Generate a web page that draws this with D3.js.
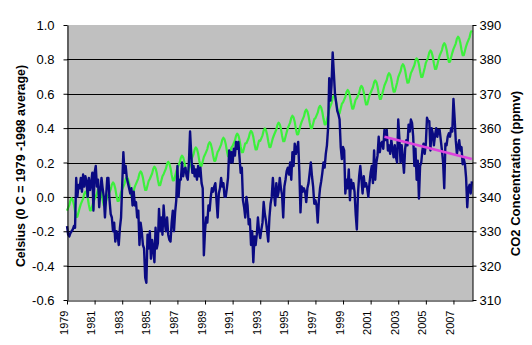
<!DOCTYPE html>
<html>
<head>
<meta charset="utf-8">
<script src="https://cdn.jsdelivr.net/npm/d3@7"></script>
<style>
  html, body { margin: 0; padding: 0; background: #ffffff; }
  svg { display: block; }
  text { font-family: "Liberation Sans", Arial, sans-serif; fill: #000; }
</style>
</head>
<body>
<svg id="chart" width="532" height="345"></svg>
<script>
// ---------------- DATA ----------------
const startYear = 1979;           // first month = Jan 1979, monthly data
const monthsShown = 353;          // Jan 1979 .. May 2008 (category count)

// Monthly temperature anomaly (°C, 0 = 1979-1998 average)
const tempAnom = [
  -0.17,-0.22,-0.23,-0.21,-0.20,-0.19,-0.17,-0.18,0.11,0.00,0.07,0.05,   // 1979
  0.11,0.03,0.13,0.06,0.12,0.09,0.00,0.11,0.04,0.08,0.14,-0.08,          // 1980
  0.14,0.18,0.06,0.10,-0.06,0.03,0.11,0.05,0.00,-0.12,0.00,0.11,         // 1981
  0.11,-0.02,-0.10,-0.12,-0.20,-0.15,-0.26,-0.20,-0.22,-0.28,-0.18,-0.12,// 1982
  0.07,0.26,0.14,0.18,0.11,0.08,0.05,0.02,0.05,-0.05,0.03,-0.05,         // 1983
  -0.03,-0.12,-0.08,-0.28,-0.15,-0.20,-0.28,-0.30,-0.47,-0.50,-0.22,-0.30,// 1984
  -0.20,-0.36,-0.25,-0.30,-0.38,-0.18,-0.30,-0.27,-0.07,-0.20,-0.12,-0.22,// 1985
  -0.05,-0.15,-0.20,-0.12,-0.22,-0.25,-0.26,-0.15,-0.08,-0.20,-0.09,-0.02,// 1986
  0.18,0.00,0.10,0.10,0.20,0.12,0.16,0.17,0.12,0.10,0.20,0.38,           // 1987
  0.25,0.14,0.18,0.12,0.16,0.10,0.18,0.12,0.17,0.08,0.05,-0.34,          // 1988
  -0.20,-0.12,-0.15,-0.05,-0.08,0.00,0.05,0.03,0.06,0.08,-0.02,-0.12,    // 1989
  0.02,0.05,0.11,0.06,0.08,0.00,0.00,0.05,0.11,0.27,0.20,0.26,           // 1990
  0.20,0.28,0.24,0.32,0.28,0.32,0.23,0.14,0.17,-0.02,-0.06,-0.12,        // 1991
  0.00,-0.05,-0.16,-0.13,-0.28,-0.20,-0.38,-0.23,-0.28,-0.22,-0.12,-0.20,// 1992
  -0.24,-0.19,-0.15,-0.03,-0.10,-0.14,-0.20,-0.26,-0.12,-0.04,0.00,0.11, // 1993
  0.02,-0.05,0.08,0.00,0.03,0.11,0.05,0.01,-0.12,0.06,0.10,0.15,         // 1994
  0.17,0.13,0.20,0.10,0.26,0.18,0.31,0.25,0.28,0.32,0.15,-0.09,          // 1995
  0.06,0.03,0.05,0.03,-0.03,0.05,0.08,0.14,0.20,0.12,0.06,-0.04,         // 1996
  -0.02,-0.05,-0.15,-0.02,0.05,0.09,0.14,0.20,0.17,0.25,0.30,0.40,       // 1997
  0.69,0.56,0.65,0.84,0.72,0.60,0.55,0.50,0.48,0.45,0.29,0.22,           // 1998
  0.29,0.27,0.02,0.10,0.05,0.16,-0.02,0.10,0.05,0.08,0.03,-0.10,         // 1999
  -0.19,0.02,0.12,0.18,0.10,0.02,0.12,0.06,0.08,0.05,0.00,0.08,          // 2000
  0.14,0.18,0.08,0.27,0.10,0.20,0.24,0.35,0.26,0.31,0.32,0.28,           // 2001
  0.39,0.33,0.39,0.27,0.30,0.25,0.33,0.28,0.23,0.30,0.23,0.20,           // 2002
  0.45,0.34,0.20,0.30,0.22,0.14,0.28,0.33,0.30,0.42,0.38,0.45,           // 2003
  0.43,0.35,0.18,0.28,0.10,0.21,-0.01,0.18,0.20,0.27,0.31,0.25,          // 2004
  0.31,0.46,0.44,0.44,0.27,0.40,0.37,0.30,0.36,0.40,0.35,0.39,           // 2005
  0.39,0.33,0.27,0.20,0.05,0.31,0.30,0.35,0.37,0.35,0.40,0.38,           // 2006
  0.57,0.46,0.33,0.25,0.29,0.33,0.27,0.29,0.19,0.22,0.19,0.11,           // 2007
  -0.06,0.05,0.07,0.02,0.09                                              // 2008
];

// Monthly CO2 concentration (ppmv)
const co2 = [
  336.0,336.8,337.6,339.0,339.6,339.1,337.8,335.8,334.2,334.2,335.5,336.8, // 1979
  337.9,338.7,339.5,340.9,341.5,341.0,339.7,337.7,336.1,336.1,337.4,338.7, // 1980
  339.3,340.1,340.9,342.3,342.9,342.4,341.1,339.1,337.5,337.5,338.8,340.1, // 1981
  340.6,341.4,342.2,343.6,344.2,343.7,342.4,340.4,338.8,338.8,340.1,341.4, // 1982
  342.2,343.0,343.8,345.2,345.8,345.3,344.0,342.0,340.4,340.4,341.7,343.0, // 1983
  343.8,344.6,345.4,346.8,347.4,346.9,345.6,343.6,342.0,342.0,343.3,344.6, // 1984
  345.2,346.0,346.8,348.2,348.8,348.3,347.0,345.0,343.4,343.4,344.7,346.0, // 1985
  346.6,347.4,348.2,349.6,350.2,349.7,348.4,346.4,344.8,344.8,346.1,347.4, // 1986
  348.4,349.2,350.0,351.4,352.0,351.5,350.2,348.2,346.6,346.6,347.9,349.2, // 1987
  350.8,351.6,352.4,353.8,354.4,353.9,352.6,350.6,349.0,349.0,350.3,351.6, // 1988
  352.3,353.1,353.9,355.3,355.9,355.4,354.1,352.1,350.5,350.5,351.8,353.1, // 1989
  353.6,354.4,355.2,356.6,357.2,356.7,355.4,353.4,351.8,351.8,353.1,354.4, // 1990
  354.8,355.6,356.4,357.8,358.4,357.9,356.6,354.6,353.0,353.0,354.3,355.6, // 1991
  355.6,356.4,357.2,358.6,359.2,358.7,357.4,355.4,353.8,353.8,355.1,356.4, // 1992
  356.3,357.1,357.9,359.3,359.9,359.4,358.1,356.1,354.5,354.5,355.8,357.1, // 1993
  358.0,358.8,359.6,361.0,361.6,361.1,359.8,357.8,356.2,356.2,357.5,358.8, // 1994
  360.0,360.8,361.6,363.0,363.6,363.1,361.8,359.8,358.2,358.2,359.5,360.8, // 1995
  361.8,362.6,363.4,364.8,365.4,364.9,363.6,361.6,360.0,360.0,361.3,362.6, // 1996
  362.9,363.7,364.5,365.9,366.5,366.0,364.7,362.7,361.1,361.1,362.4,363.7, // 1997
  365.5,366.4,367.3,368.8,369.4,369.0,367.7,365.8,364.2,364.3,365.7,367.1, // 1998
  367.5,368.3,369.1,370.5,371.1,370.6,369.3,367.3,365.7,365.7,367.0,368.3, // 1999
  368.7,369.5,370.3,371.7,372.3,371.8,370.5,368.5,366.9,366.9,368.2,369.5, // 2000
  370.3,371.1,371.9,373.3,373.9,373.4,372.1,370.1,368.5,368.5,369.8,371.1, // 2001
  372.4,373.2,374.0,375.4,376.0,375.5,374.2,372.2,370.6,370.6,371.9,373.2, // 2002
  374.8,375.7,376.5,378.0,378.6,378.1,376.8,374.8,373.2,373.3,374.6,376.0, // 2003
  376.7,377.5,378.3,379.7,380.3,379.8,378.5,376.5,374.9,374.9,376.2,377.5, // 2004
  379.0,379.8,380.6,382.0,382.6,382.1,380.8,378.8,377.2,377.2,378.5,379.8, // 2005
  381.1,381.9,382.7,384.1,384.7,384.2,382.9,380.9,379.3,379.3,380.6,381.9, // 2006
  383.0,383.8,384.6,386.0,386.6,386.1,384.8,382.8,381.2,381.2,382.5,383.8, // 2007
  384.8,385.6,386.4,387.8,388.4                                            // 2008
];

// Linear trend of temperature since 2002 (start, end)
const trendYears  = [2002.0, 2008.33];
const trendValues = [0.35, 0.22];

// Axis ticks
const xTickYears  = [1979,1981,1983,1985,1987,1989,1991,1993,1995,1997,1999,2001,2003,2005,2007];
const leftTicks   = [-0.6,-0.4,-0.2,0.0,0.2,0.4,0.6,0.8,1.0];
const rightTicks  = [310,320,330,340,350,360,370,380,390];

const leftTitle  = "Celsius (0 C = 1979 -1998 average)";
const rightTitle = "CO2 Concentration (ppmv)";

// ---------------- CHART ----------------
const svg = d3.select("#chart");
const plot = { left: 67, right: 473, top: 25, bottom: 300 };

const x = d3.scaleLinear()
  .domain([startYear, startYear + monthsShown / 12])
  .range([plot.left, plot.right]);
const yL = d3.scaleLinear().domain([-0.6, 1.0]).range([plot.bottom, plot.top]);
const yR = d3.scaleLinear().domain([310, 390]).range([plot.bottom, plot.top]);

const monthYear = i => startYear + i / 12;

// Plot background
svg.append("rect")
  .attr("x", plot.left).attr("y", plot.top)
  .attr("width", plot.right - plot.left).attr("height", plot.bottom - plot.top)
  .attr("fill", "#c0c0c0");

// Gridlines
svg.append("g").selectAll("line")
  .data(leftTicks.filter(v => v > -0.6 && v < 1.0))
  .join("line")
  .attr("x1", plot.left).attr("x2", plot.right)
  .attr("y1", d => Math.round(yL(d)) + 0.5).attr("y2", d => Math.round(yL(d)) + 0.5)
  .attr("stroke", "#000").attr("stroke-width", 1);

// CO2 line (green)
const co2Line = d3.line()
  .x((d, i) => x(monthYear(i)))
  .y(d => yR(d));
svg.append("path")
  .datum(co2)
  .attr("d", co2Line)
  .attr("fill", "none")
  .attr("stroke", "#3cf03c")
  .attr("stroke-width", 2.2)
  .attr("stroke-linejoin", "round");

// Temperature line (navy)
const tLine = d3.line()
  .x((d, i) => x(monthYear(i)))
  .y(d => yL(d));
svg.append("path")
  .datum(tempAnom)
  .attr("d", tLine)
  .attr("fill", "none")
  .attr("stroke", "#0a0a82")
  .attr("stroke-width", 2.4)
  .attr("stroke-linejoin", "round");

// Trend line (magenta)
svg.append("path")
  .datum(trendYears.map((yy, i) => [yy, trendValues[i]]))
  .attr("d", d3.line().x(d => x(d[0])).y(d => yL(d[1])))
  .attr("fill", "none")
  .attr("stroke", "#dd44dd")
  .attr("stroke-width", 2.6);

// Left axis
const gL = svg.append("g")
  .attr("transform", `translate(${plot.left + 0.5},0)`)
  .call(d3.axisLeft(yL).tickValues(leftTicks).tickSize(4).tickSizeOuter(0).tickPadding(9)
    .tickFormat(d => d.toFixed(1)));
gL.selectAll("text").style("font-size", "13px").attr("dy", "0.35em");

// Right axis
const gR = svg.append("g")
  .attr("transform", `translate(${plot.right - 0.5},0)`)
  .call(d3.axisRight(yR).tickValues(rightTicks).tickSize(4).tickSizeOuter(0).tickPadding(3)
    .tickFormat(d => String(d)));
gR.selectAll("text").style("font-size", "13px").attr("dy", "0.35em");

// Bottom axis
const gB = svg.append("g")
  .attr("transform", `translate(0,${plot.bottom + 0.5})`)
  .call(d3.axisBottom(x).tickValues(xTickYears).tickSize(4).tickSizeOuter(0)
    .tickFormat(d => String(d)));
gB.selectAll("text")
  .style("font-size", "11px")
  .attr("text-anchor", "end")
  .attr("transform", "rotate(-90)")
  .attr("x", -10)
  .attr("y", 0)
  .attr("dy", "0");

[gL, gR, gB].forEach(g => {
  g.selectAll("path.domain").attr("stroke", "#000").attr("stroke-width", 1);
  g.selectAll("line").attr("stroke", "#000");
  g.selectAll("text").attr("fill", "#000").style("font-family", '"Liberation Sans", Arial, sans-serif');
});

// Axis titles
svg.append("text")
  .attr("transform", `translate(25,${(plot.top + plot.bottom) / 2 + 3.5}) rotate(-90)`)
  .attr("text-anchor", "middle")
  .style("font-size", "12.4px")
  .style("font-weight", "bold")
  .text(leftTitle);

svg.append("text")
  .attr("transform", `translate(519.5,${(plot.top + plot.bottom) / 2 + 11}) rotate(-90)`)
  .attr("text-anchor", "middle")
  .style("font-size", "13px")
  .style("font-weight", "bold")
  .text(rightTitle);
</script>
</body>
</html>
